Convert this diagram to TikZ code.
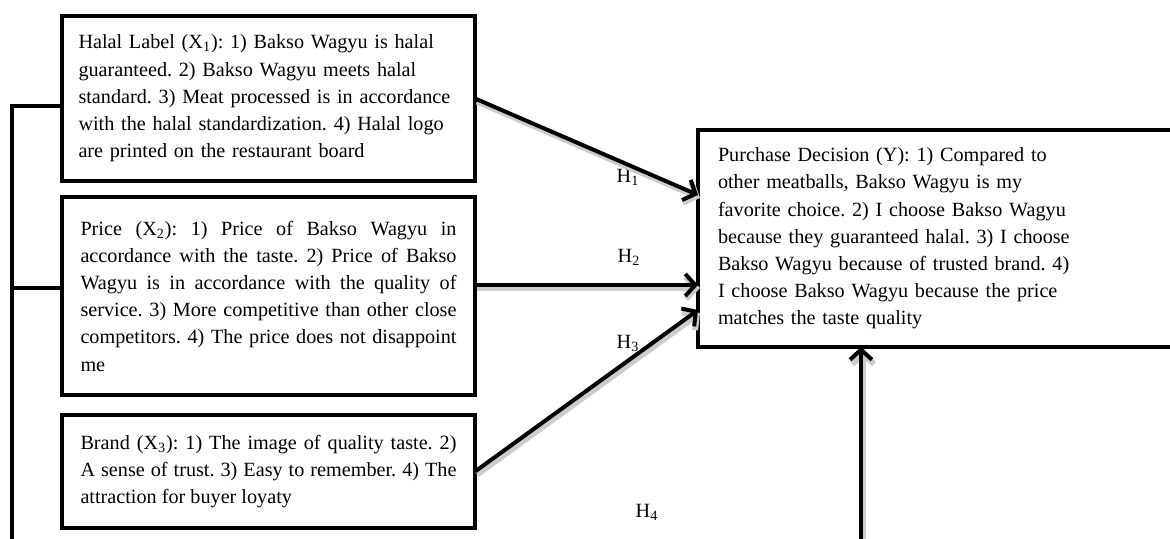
\documentclass[tikz,border=0pt]{standalone}
\usepackage{fontspec}
\setmainfont{Liberation Serif}
\usetikzlibrary{arrows.meta}
\frenchspacing
\hyphenpenalty=10000
\exhyphenpenalty=10000

\begin{document}
\begin{tikzpicture}[x=0.5pt, y=-0.5pt,
    box/.style={draw, line width=2pt, anchor=north west, outer sep=0pt,
        font=\fontsize{10.1}{13.6}\selectfont},
    hyp/.style={line width=2pt, -{Straight Barb[length=5pt,width=11pt]},
        preaction={draw=black!20, line width=3pt,
            transform canvas={shift={(1pt,-1.5pt)}}}},
    hlab/.style={font=\fontsize{10.1}{13.5}\selectfont}]
    \useasboundingbox (0,0) rectangle (1170,539);
    \clip (0,0) rectangle (1170,539);

    % ===== X variables =====
    \node[box, text width=190pt, inner xsep=8.25pt, minimum height=82.5pt, align=left] (x1) at (62,16)
        {Halal Label (X\textsubscript{1}): 1) Bakso Wagyu is halal\\
         guaranteed. 2) Bakso Wagyu meets halal\\
         standard. 3) Meat processed is in accordance\\
         with the halal standardization. 4) Halal logo\\
         are printed on the restaurant board};
    \node[box, text width=188pt, inner xsep=9.25pt, minimum height=99pt, align=justify] (x2) at (62,197)
        {Price (X\textsubscript{2}): 1) Price of Bakso Wagyu in\linebreak
         accordance with the taste. 2) Price of Bakso\linebreak
         Wagyu is in accordance with the quality of\linebreak
         service. 3) More competitive than other close\linebreak
         competitors. 4) The price does not disappoint\linebreak
         me};
    \node[box, text width=188pt, inner xsep=9.25pt, minimum height=56.5pt, align=justify] (x3) at (62,415)
        {Brand (X\textsubscript{3}): 1) The image of quality taste. 2)\linebreak
         A sense of trust. 3) Easy to remember. 4) The\linebreak
         attraction for buyer loyaty};

    % ===== Y variable =====
    \node[box, text width=240pt, inner xsep=10pt, minimum height=108.5pt, align=left] (y) at (698,130)
        {Purchase Decision (Y): 1) Compared to\\
         other meatballs, Bakso Wagyu is my\\
         favorite choice. 2) I choose Bakso Wagyu\\
         because they guaranteed halal. 3) I choose\\
         Bakso Wagyu because of trusted brand. 4)\\
         I choose Bakso Wagyu because the price\\
         matches the taste quality};

    % hypothesis labels
    \node[hlab] (h1) at (628,177) {H\textsubscript{1}};
    \node[hlab] (h2) at (629,257) {H\textsubscript{2}};
    \node[hlab] (h3) at (628,343) {H\textsubscript{3}};
    \node[hlab] (h4) at (647,512) {H\textsubscript{4}};

    % arrows
    \draw[hyp] (x1.east) -- ([yshift=21.75pt]y.west);
    \draw[hyp] ([yshift=5.5pt]x2.east) -- ([yshift=5.5pt]x2.east -| y.west);
    \draw[hyp] (x3.east) -- ([yshift=-35.75pt]y.west);
    \coordinate (ybot) at (861,570);
    \draw[hyp] (ybot) -- (ybot |- y.south);

    % simultaneous bracket
    \coordinate (lbot) at (12,570);
    \draw[line width=2pt] (lbot) |- ([yshift=-3.75pt]x1.west);
    \draw[line width=2pt] ([yshift=4pt]x2.west) -- ([yshift=4pt]x2.west -| lbot);
\end{tikzpicture}
\end{document}
